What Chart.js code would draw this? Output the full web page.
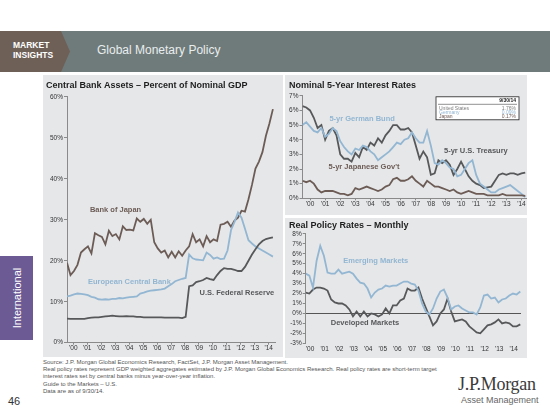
<!DOCTYPE html>
<html>
<head>
<meta charset="utf-8">
<script src="https://cdn.jsdelivr.net/npm/chart.js@4.4.1/dist/chart.umd.min.js"></script>
<style>
  body { margin:0; width:550px; height:413px; position:relative; background:#fff; overflow:hidden;
         font-family:"Liberation Sans", Arial, sans-serif; }
  .abs { position:absolute; }
  #bar { left:0; top:31px; width:550px; height:41px; background:#6f7b7b; }
  #tag { left:0; top:31px; width:70px; height:41px; background:#6e5f57;
         clip-path:polygon(0 0, 61px 0, 70px 50%, 61px 100%, 0 100%); }
  #tagText { left:13px; top:40px; color:#fff; font-weight:bold; font-size:8.5px; line-height:10px; }
  #pageTitle { left:97px; top:43px; color:#e9eded; font-size:12px; }
  .panel { background:#e5e7e9; }
  #side { left:0; top:256px; width:33px; height:84px; background:#6b5a93; }
  #sideText { left:17px; top:298px; color:#fff; font-size:11px; transform:translate(-50%,-50%) rotate(-90deg); white-space:nowrap; }
  #notes { left:43px; top:359px; font-size:6px; line-height:7.2px; color:#555; white-space:nowrap; }
  #page { left:8px; top:395px; font-size:11px; color:#333; }
  #logo1 { left:458px; top:374px; font-family:"Liberation Serif", serif; font-size:18px; color:#3a3a3a; letter-spacing:-0.3px; }
  #logo2 { left:461px; top:395px; font-size:9px; color:#666; }
</style>
</head>
<body>
<div id="bar" class="abs"></div>
<div id="tag" class="abs"></div>
<div id="tagText" class="abs">MARKET<br>INSIGHTS</div>
<div id="pageTitle" class="abs">Global Monetary Policy</div>

<div class="abs panel" style="left:43px;top:75px;width:240px;height:282px;"></div>
<div class="abs panel" style="left:285px;top:75px;width:242px;height:140px;"></div>
<div class="abs panel" style="left:285px;top:218px;width:242px;height:140px;"></div>
<div class="abs" style="left:46px;top:75px;width:237px;height:282px;"><canvas id="c1"></canvas></div>
<div class="abs" style="left:289px;top:75px;width:238px;height:140px;"><canvas id="c2"></canvas></div>
<div class="abs" style="left:289px;top:218px;width:238px;height:140px;"><canvas id="c3"></canvas></div>

<div id="side" class="abs"></div>
<div id="sideText" class="abs">International</div>

<div id="notes" class="abs">Source: J.P. Morgan Global Economics Research, FactSet, J.P. Morgan Asset Management.<br>
Real policy rates represent GDP weighted aggregates estimated by J.P. Morgan Global Economics Research. Real policy rates are short-term target<br>
interest rates set by central banks minus year-over-year inflation.<br>
Guide to the Markets – U.S.<br>
Data are as of 9/30/14.</div>
<div id="page" class="abs">46</div>
<div id="logo1" class="abs">J.P.Morgan</div>
<div id="logo2" class="abs">Asset Management</div>

<script>
// tick labels, one per year
const yearTicks = ["'00","'01","'02","'03","'04","'05","'06","'07","'08","'09","'10","'11","'12","'13","'14"];

// central bank assets, % of nominal GDP, quarterly 2000 -> 9/2014
const bojAssets = [19.5,16.5,17.5,19.0, 22.0,22.8,23.5,21.8, 26.7,26.2,25.8,24.0, 27.3,26.0,26.5,25.2,
  28.4,27.5,27.6,27.4, 30.3,29.5,30.2,29.0, 30.0,24.5,23.0,22.0, 22.5,20.8,22.2,20.8,
  22.3,21.2,22.5,23.5, 26.5,24.5,25.2,23.5, 26.0,24.5,25.2,24.8, 28.8,29.0,29.5,28.3,
  29.8,30.5,32.2,32.0, 35.0,38.5,42.5,44.2, 46.5,50.5,53.5,57.0];
const ecbAssets = [11.3,11.5,11.8,12.0, 11.9,11.8,11.6,11.2, 11.0,10.6,10.5,10.6, 10.5,10.7,10.7,10.9,
  10.8,11.0,11.1,11.2, 11.3,12.0,12.2,12.5, 12.7,12.8,12.9,13.0, 13.2,13.8,14.3,15.0,
  15.3,15.6,15.8,21.5, 20.6,20.3,20.2,20.1, 22.0,21.4,20.5,20.8, 20.4,20.5,22.5,27.5,
  29.5,31.8,30.5,27.8, 25.0,24.2,23.5,23.0, 22.5,22.0,21.5,21.0];
const fedAssets = [5.9,5.8,5.8,5.8, 5.8,5.8,6.0,6.1, 6.2,6.2,6.3,6.4, 6.5,6.6,6.5,6.4,
  6.4,6.5,6.4,6.4, 6.3,6.3,6.2,6.2, 6.2,6.2,6.2,6.2, 6.1,6.1,6.1,6.1,
  6.1,6.0,6.3,13.8, 14.0,14.8,15.0,15.3, 15.8,15.5,15.3,16.5, 17.5,18.2,18.0,18.0,
  17.8,17.5,17.5,18.5, 20.0,21.5,22.8,24.0, 24.8,25.3,25.5,25.7];

// nominal 5-year yields, %
const usTreasury = [6.3,6.2,6.0,5.5, 4.8,5.0,4.0,4.6, 4.8,4.3,3.0,2.7, 2.7,2.5,3.1,2.8,
  3.5,3.3,3.8,3.6, 4.1,3.8,4.3,4.6, 5.0,5.0,4.7,4.7, 4.8,4.5,3.6,2.7,
  3.2,2.8,1.6,1.7, 2.6,2.4,2.6,2.3, 1.6,2.0,2.5,2.0, 1.5,1.2,1.0,0.9,
  0.7,0.75,0.8,1.2, 1.6,1.7,1.6,1.7, 1.7,1.6,1.7,1.76];
const germanBund = [5.0,5.2,4.9,4.6, 4.5,4.8,4.2,4.4, 4.8,4.6,3.9,3.5, 3.2,3.0,3.4,3.3,
  3.6,3.5,3.2,3.0, 2.6,2.8,3.0,3.2, 3.5,3.8,3.7,4.0, 4.1,4.5,4.1,3.8,
  3.8,4.6,3.6,2.4, 2.3,2.6,2.4,2.1, 2.0,1.5,1.6,2.0, 2.4,2.6,1.6,1.0,
  0.8,0.6,0.4,0.4, 0.6,0.7,0.8,0.9, 0.7,0.5,0.3,0.09];
const japanGovt = [1.2,1.1,1.2,1.0, 0.6,0.4,0.5,0.5, 0.5,0.4,0.3,0.3, 0.2,0.3,0.7,0.6,
  0.7,0.8,0.7,0.6, 0.5,0.6,0.8,0.9, 1.3,1.4,1.2,1.2, 1.3,1.5,1.2,1.0,
  0.8,1.2,1.0,0.8, 0.8,0.7,0.6,0.5, 0.6,0.4,0.3,0.4, 0.5,0.4,0.3,0.3,
  0.3,0.2,0.2,0.2, 0.2,0.3,0.2,0.2, 0.2,0.2,0.2,0.17];

// real policy rates, %
const emergingReal = [4.0,3.8,2.6,5.3, 6.8,5.8,4.1,4.0, 4.0,4.4,4.0,4.1, 4.2,4.0,3.5,3.1,
  3.0,2.5,1.6,2.1, 2.4,2.5,2.8,2.7, 2.8,2.8,3.0,3.2, 3.2,3.0,2.9,2.3,
  1.0,0.2,-0.1,0.5, 1.5,2.2,2.4,1.6, 0.4,0.7,0.8,0.5, 0.3,0.1,0.1,-0.1,
  0.6,1.8,1.9,1.5, 1.6,1.1,1.4,1.5, 1.8,2.0,1.9,2.2];
const developedReal = [2.1,2.0,2.4,2.6, 2.6,2.5,2.3,1.4, 1.1,1.0,1.0,0.8, 0.4,-0.3,0.2,-0.3,
  0.2,-0.3,0.0,-0.1, -0.3,-0.1,0.5,0.0, 0.8,0.8,1.3,1.5, 2.5,2.3,2.3,2.6,
  1.5,0.6,-0.3,-1.2, -0.8,0.0,0.4,1.5, 0.2,-0.8,-0.7,-0.6, -0.8,-1.3,-1.6,-1.9,
  -2.0,-1.6,-1.2,-1.1, -0.9,-0.6,-1.0,-0.9, -1.0,-1.3,-1.3,-1.1];

// 9/30/14 table
const tableRows = ['United States','Germany','Japan'];
const tableValues = ['1.76%','0.09%','0.17%'];

const quarterTimes = bojAssets.map((_, i) => 2000 + i / 4);

const FONT = '"Liberation Sans", Arial, sans-serif';
const AXIS = '#8a8a8a';
const BLUE = '#93b6d2', DARK = '#57585a', BROWN = '#6d5c56';

// writes line names next to their series
const lineLabels = {
  id: 'lineLabels',
  afterDatasetsDraw(chart, args, opts) {
    const { ctx, scales: { x, y } } = chart;
    ctx.save();
    ctx.font = 'bold 7.5px ' + FONT;
    ctx.textBaseline = 'middle';
    (opts.items || []).forEach(it => {
      ctx.fillStyle = it.color;
      ctx.fillText(it.text, x.getPixelForValue(it.x), y.getPixelForValue(it.y));
    });
    ctx.restore();
  }
};

// small boxed table of latest values
const statBox = {
  id: 'statBox',
  afterDraw(chart, args, opts) {
    if (!opts.show) return;
    const { ctx, chartArea } = chart;
    const w = 83, h = 23, x0 = chartArea.right - w - 7, y0 = chartArea.top + 1;
    const colors = ['#7d7d7d', BLUE, BROWN];
    ctx.save();
    ctx.fillStyle = '#fff';
    ctx.fillRect(x0, y0, w, h);
    ctx.strokeStyle = '#222';
    ctx.lineWidth = 0.8;
    ctx.strokeRect(x0, y0, w, h);
    ctx.beginPath();
    ctx.moveTo(x0 + 2, y0 + 7.5); ctx.lineTo(x0 + w - 2, y0 + 7.5);
    ctx.lineWidth = 0.5; ctx.stroke();
    ctx.font = 'bold 5px ' + FONT;
    ctx.fillStyle = '#222';
    ctx.textAlign = 'right';
    ctx.textBaseline = 'middle';
    ctx.fillText('9/30/14', x0 + w - 3, y0 + 4);
    ctx.font = '5px ' + FONT;
    tableRows.forEach((name, i) => {
      const yy = y0 + 11.5 + i * 4.3;
      ctx.fillStyle = colors[i];
      ctx.textAlign = 'left';
      ctx.fillText(name, x0 + 3, yy);
      ctx.textAlign = 'right';
      ctx.fillText(tableValues[i], x0 + w - 3, yy);
    });
    ctx.restore();
  }
};

function lineSet(label, data, color) {
  return { label, data, borderColor: color, backgroundColor: color, borderWidth: 1.8,
           pointRadius: 0, tension: 0, fill: false };
}

function makeChart(id, cfg) {
  return new Chart(document.getElementById(id), {
    type: 'line',
    data: { labels: quarterTimes, datasets: cfg.datasets },
    options: {
      responsive: true,
      maintainAspectRatio: false,
      animation: false,
      layout: { padding: cfg.padding },
      plugins: {
        legend: { display: false },
        tooltip: { enabled: false },
        title: { display: true, text: cfg.title, align: 'start', color: '#1e1e1e',
                 font: { family: FONT, size: 9, weight: 'bold' }, padding: cfg.titlePad },
        lineLabels: { items: cfg.labels },
        statBox: { show: !!cfg.table }
      },
      scales: {
        x: {
          type: 'linear', min: 2000, max: cfg.xMax,
          afterBuildTicks: s => { s.ticks = yearTicks.map((_, i) => ({ value: 2000 + i + cfg.tickShift })); },
          ticks: { autoSkip: false, maxRotation: 0, padding: 0, color: '#333',
                   font: { family: FONT, size: 6.5 }, callback: (v, i) => yearTicks[i] },
          grid: { display: cfg.xLine, drawOnChartArea: false, tickLength: 2, color: AXIS },
          border: { display: cfg.xLine, color: AXIS },
          afterFit: s => { s.height = cfg.xHeight; }
        },
        y: {
          min: cfg.yMin, max: cfg.yMax,
          ticks: { stepSize: cfg.yStep, autoSkip: false, padding: 1, color: '#333',
                   font: { family: FONT, size: 6.5 }, callback: v => v + '%' },
          grid: { drawOnChartArea: !!cfg.zeroLine, tickLength: 3, tickColor: AXIS,
                  color: c => (cfg.zeroLine && c.tick.value === 0) ? '#555' : 'rgba(0,0,0,0)' },
          border: { color: AXIS },
          afterFit: s => { s.width = cfg.yWidth; }
        }
      }
    },
    plugins: [lineLabels, statBox]
  });
}

makeChart('c1', {
  title: 'Central Bank Assets – Percent of Nominal GDP', titlePad: { top: 5, bottom: 6 },
  padding: { left: 0, right: 8, top: 0, bottom: 0 },
  xMax: 2014.9, tickShift: 0.45, xHeight: 14.3, xLine: true,
  yMin: 0, yMax: 60, yStep: 10, yWidth: 21,
  datasets: [
    lineSet('U.S. Federal Reserve', fedAssets, DARK),
    lineSet('European Central Bank', ecbAssets, BLUE),
    lineSet('Bank of Japan', bojAssets, BROWN)
  ],
  labels: [
    { text: 'Bank of Japan', x: 2001.64, y: 32.3, color: BROWN },
    { text: 'European Central Bank', x: 2001.5, y: 14.9, color: BLUE },
    { text: 'U.S. Federal Reserve', x: 2009.5, y: 12.2, color: DARK }
  ]
});

makeChart('c2', {
  title: 'Nominal 5-Year Interest Rates', titlePad: { top: 5, bottom: 5 },
  padding: { left: 0, right: 1, top: 0, bottom: 0 },
  xMax: 2014.8, tickShift: 0.5, xHeight: 16.7, xLine: true,
  yMin: 0, yMax: 7, yStep: 1, yWidth: 13.5,
  datasets: [
    lineSet('5-yr Japanese Gov\'t', japanGovt, BROWN),
    lineSet('5-yr German Bund', germanBund, BLUE),
    lineSet('5-yr U.S. Treasury', usTreasury, DARK)
  ],
  labels: [
    { text: '5-yr German Bund', x: 2001.78, y: 5.43, color: BLUE },
    { text: '5-yr U.S. Treasury', x: 2009.37, y: 3.24, color: DARK },
    { text: '5-yr Japanese Gov\'t', x: 2001.72, y: 2.14, color: BROWN }
  ],
  table: true
});

makeChart('c3', {
  title: 'Real Policy Rates – Monthly', titlePad: { top: 2, bottom: 3 },
  padding: { left: 0, right: 6, top: 0, bottom: 0 },
  xMax: 2014.8, tickShift: 0.3, xHeight: 14.7, xLine: false, zeroLine: true,
  yMin: -3, yMax: 8, yStep: 1, yWidth: 16.7,
  datasets: [
    lineSet('Emerging Markets', emergingReal, BLUE),
    lineSet('Developed Markets', developedReal, DARK)
  ],
  labels: [
    { text: 'Emerging Markets', x: 2002.58, y: 5.26, color: BLUE },
    { text: 'Developed Markets', x: 2001.72, y: -1.0, color: DARK }
  ]
});
</script>
</body>
</html>
